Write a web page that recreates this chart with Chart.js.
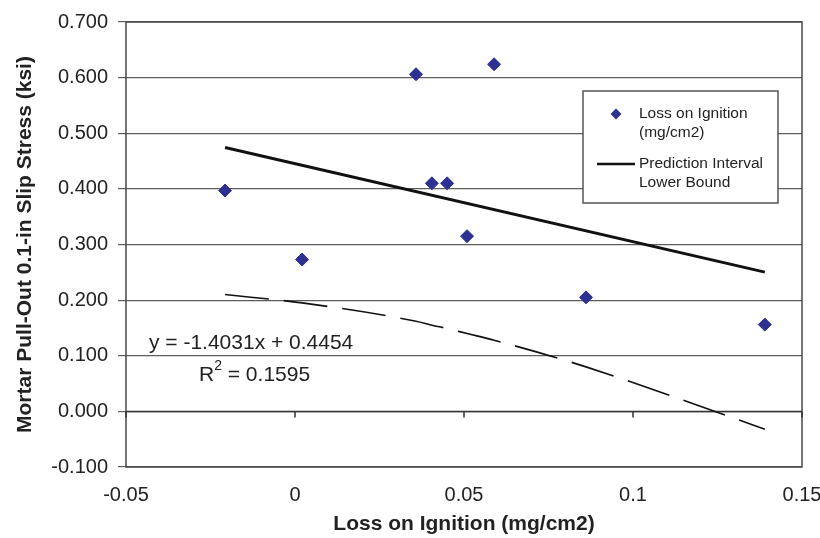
<!DOCTYPE html>
<html>
<head>
<meta charset="utf-8">
<script src="https://cdn.jsdelivr.net/npm/chart.js@4/dist/chart.umd.min.js"></script>
<style>
  html, body { margin: 0; padding: 0; background: #fff; }
</style>
</head>
<body>
<canvas id="myChart" width="820" height="538"></canvas>
<script>
// measured samples
const lossOnIgnition = [-0.0207, 0.0021, 0.0358, 0.0405, 0.0450, 0.0509, 0.0589, 0.0861, 0.1390];
const slipStress = [0.397, 0.273, 0.606, 0.410, 0.410, 0.315, 0.624, 0.205, 0.156];
// lower bound of the prediction interval at the same x values
const lowerBound = [0.210, 0.195, 0.162, 0.155, 0.149, 0.140, 0.128, 0.080, -0.032];

// linear fit
const slope = -1.4031;
const intercept = 0.4454;
const rSquared = '0.1595';

const xTickLabels = ['-0.05', '0', '0.05', '0.1', '0.15'];
const yTickLabels = ['-0.100', '0.000', '0.100', '0.200', '0.300', '0.400', '0.500', '0.600', '0.700'];

const FONT = 'Arial, "Liberation Sans", Helvetica, sans-serif';
const MARKER = '#2e3192';

const pointData = lossOnIgnition.map((x, i) => ({ x: x, y: slipStress[i] }));
const boundData = lossOnIgnition.map((x, i) => ({ x: x, y: lowerBound[i] }));
const xFirst = lossOnIgnition[0];
const xLast = lossOnIgnition[lossOnIgnition.length - 1];
const trendData = [
  { x: xFirst, y: slope * xFirst + intercept },
  { x: xLast, y: slope * xLast + intercept }
];

// frame, zero axis line with its ticks, equation text and legend box
const extras = {
  id: 'extras',
  beforeDatasetsDraw(chart) {
    const { ctx, chartArea: a, scales: { x, y } } = chart;
    ctx.save();
    ctx.strokeStyle = '#4a4a4a';
    ctx.lineWidth = 1.5;
    ctx.strokeRect(a.left, a.top, a.right - a.left, a.bottom - a.top);
    const y0 = Math.round(y.getPixelForValue(0)) + 0.5;
    ctx.strokeStyle = '#333';
    ctx.lineWidth = 1.5;
    ctx.beginPath();
    ctx.moveTo(a.left, y0);
    ctx.lineTo(a.right, y0);
    for (let v = -0.05; v <= 0.1501; v += 0.05) {
      const px = Math.round(x.getPixelForValue(v));
      ctx.moveTo(px, y0);
      ctx.lineTo(px, y0 + 6);
    }
    ctx.stroke();
    ctx.restore();
  },
  afterDatasetsDraw(chart) {
    const { ctx, scales: { x, y } } = chart;
    ctx.save();
    ctx.fillStyle = '#222';
    ctx.textBaseline = 'middle';
    ctx.textAlign = 'left';
    ctx.font = '21px ' + FONT;
    const ex = x.getPixelForValue(-0.0432);
    const ey = y.getPixelForValue(0.122);
    ctx.fillText('y = ' + slope + 'x + ' + intercept, ex, ey);
    const rx = ex + 50, ry = ey + 32;
    ctx.fillText('R', rx, ry);
    const rw = ctx.measureText('R').width;
    ctx.font = '14px ' + FONT;
    ctx.fillText('2', rx + rw, ry - 9);
    const sw = ctx.measureText('2').width;
    ctx.font = '21px ' + FONT;
    ctx.fillText(' = ' + rSquared, rx + rw + sw, ry);

    // legend
    const lx = 583, ly = 91, lw = 195, lh = 112;
    ctx.fillStyle = '#fff';
    ctx.fillRect(lx, ly, lw, lh);
    ctx.strokeStyle = '#555';
    ctx.lineWidth = 1.5;
    ctx.strokeRect(lx, ly, lw, lh);

    ctx.fillStyle = MARKER;
    ctx.beginPath();
    ctx.moveTo(616 - 5.5, 114);
    ctx.lineTo(616, 114 - 5.5);
    ctx.lineTo(616 + 5.5, 114);
    ctx.lineTo(616, 114 + 5.5);
    ctx.closePath();
    ctx.fill();

    ctx.strokeStyle = '#111';
    ctx.lineWidth = 2.5;
    ctx.beginPath();
    ctx.moveTo(597, 164);
    ctx.lineTo(635, 164);
    ctx.stroke();

    ctx.fillStyle = '#222';
    ctx.font = '15.5px ' + FONT;
    ctx.fillText('Loss on Ignition', 639, 114);
    ctx.fillText('(mg/cm2)', 639, 133);
    ctx.fillText('Prediction Interval', 639, 164);
    ctx.fillText('Lower Bound', 639, 183);
    ctx.restore();
  }
};

Chart.defaults.font.family = FONT;
Chart.defaults.color = '#222';

const ctx = document.getElementById('myChart').getContext('2d');
const myChart = new Chart(ctx, {
  type: 'scatter',
  data: {
    datasets: [
      {
        label: 'Prediction Interval Lower Bound',
        data: boundData,
        showLine: true,
        borderColor: '#111',
        borderWidth: 1.6,
        borderDash: [44, 15],
        cubicInterpolationMode: 'monotone',
        pointRadius: 0,
        fill: false
      },
      {
        label: 'Linear fit',
        data: trendData,
        showLine: true,
        borderColor: '#111',
        borderWidth: 3,
        pointRadius: 0,
        fill: false
      },
      {
        label: 'Loss on Ignition (mg/cm2)',
        data: pointData,
        pointStyle: 'rectRot',
        pointRadius: 6.5,
        pointBorderWidth: 1,
        backgroundColor: MARKER,
        borderColor: MARKER
      }
    ]
  },
  options: {
    responsive: false,
    animation: false,
    devicePixelRatio: 1,
    layout: { padding: { top: 22, right: 18, left: 0, bottom: 0 } },
    plugins: {
      legend: { display: false },
      tooltip: { enabled: false }
    },
    scales: {
      x: {
        type: 'linear',
        min: -0.05,
        max: 0.15,
        afterFit: s => { s.height = 71; s.paddingLeft = 0; s.paddingRight = 0; },
        grid: { display: false },
        border: { display: false },
        ticks: {
          stepSize: 0.05,
          padding: 8,
          font: { size: 20 },
          callback: (v, i) => xTickLabels[i]
        },
        title: {
          display: true,
          text: 'Loss on Ignition (mg/cm2)',
          font: { size: 21, weight: 'bold' },
          padding: { top: 0, bottom: 1.5 }
        }
      },
      y: {
        type: 'linear',
        min: -0.1,
        max: 0.7,
        afterFit: s => { s.width = 126; s.paddingTop = 0; s.paddingBottom = 0; },
        grid: { color: '#5e5e5e', lineWidth: 1.2, tickLength: 8 },
        border: { display: false },
        ticks: {
          stepSize: 0.1,
          padding: 10,
          font: { size: 20 },
          callback: (v, i) => yTickLabels[i]
        },
        title: {
          display: true,
          text: 'Mortar Pull-Out 0.1-in Slip Stress (ksi)',
          font: { size: 21, weight: 'bold' },
          padding: { top: 12.5, bottom: 0 }
        }
      }
    }
  },
  plugins: [extras]
});
</script>
</body>
</html>
